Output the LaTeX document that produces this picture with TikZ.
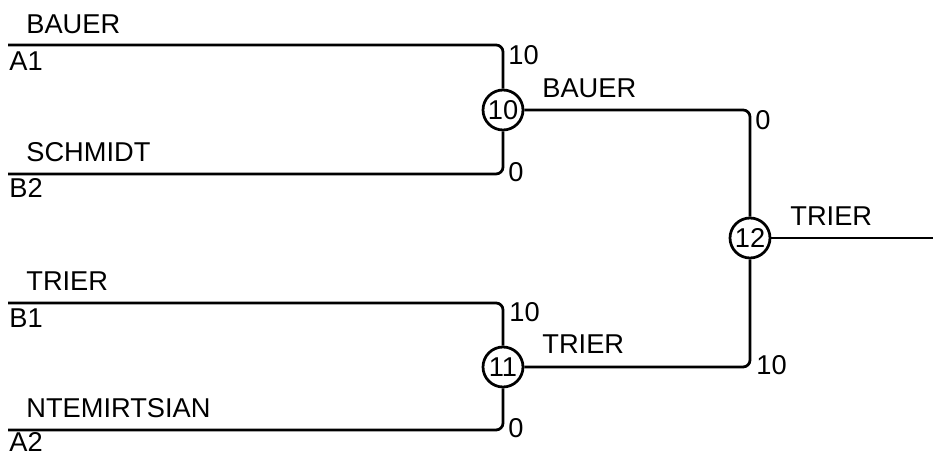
\documentclass[tikz,border=0pt]{standalone}
\usepackage{fontspec}
\setmainfont{Liberation Sans}
\usetikzlibrary{positioning}

\begin{document}
\begin{tikzpicture}[x=0.02cm, y=-0.02cm, line width=0.055cm,
		every node/.style={font=\fontsize{15.5}{18}\selectfont},
		match/.style={circle, draw, inner sep=0pt, minimum size=0.8cm},
		lbl/.style={anchor=base west, inner sep=0pt},
		bracket/.style={rounded corners=0.14cm}]
			\useasboundingbox (0,0) rectangle (933,455);

			\node (m10)[match] at (503, 110) {10};
			\node (m11)[match] at (503, 367) {11};
			\node (m12)[match] at (750, 238) {12};

			\coordinate (a1) at (8,  45);
			\coordinate (b2) at (8, 174);
			\coordinate (b1) at (8, 303);
			\coordinate (a2) at (8, 430);
			\coordinate (out) at (933, 238);

			\node (p1)[lbl] at (25,  34) {BAUER};
			\node (s1)[lbl] at (8,   71) {A1};
			\node (p2)[lbl] at (25, 162) {SCHMIDT};
			\node (s2)[lbl] at (8,  198) {B2};
			\node (p3)[lbl] at (25, 291) {TRIER};
			\node (s3)[lbl] at (8,  328) {B1};
			\node (p4)[lbl] at (25, 418) {NTEMIRTSIAN};
			\node (s4)[lbl] at (8,  452) {A2};

			\node (w10)[lbl] at (541,  98) {BAUER};
			\node (w11)[lbl] at (541, 354) {TRIER};
			\node (w12)[lbl] at (789, 226) {TRIER};

			\node (r1)[lbl] at (507,  65) {10};
			\node (r2)[lbl] at (507, 182) {0};
			\node (r3)[lbl] at (508, 322) {10};
			\node (r4)[lbl] at (507, 438) {0};
			\node (r5)[lbl] at (754, 130) {0};
			\node (r6)[lbl] at (755, 375) {10};

			\draw[bracket] (a1) -- (a1 -| m10) -- (m10);
			\draw[bracket] (b2) -- (b2 -| m10) -- (m10);
			\draw[bracket] (b1) -- (b1 -| m11) -- (m11);
			\draw[bracket] (a2) -- (a2 -| m11) -- (m11);
			\draw[bracket] (m10) -- (m10 -| m12) -- (m12);
			\draw[bracket] (m11) -- (m11 -| m12) -- (m12);
			\draw (m12) -- (out);
		\end{tikzpicture}
\end{document}
